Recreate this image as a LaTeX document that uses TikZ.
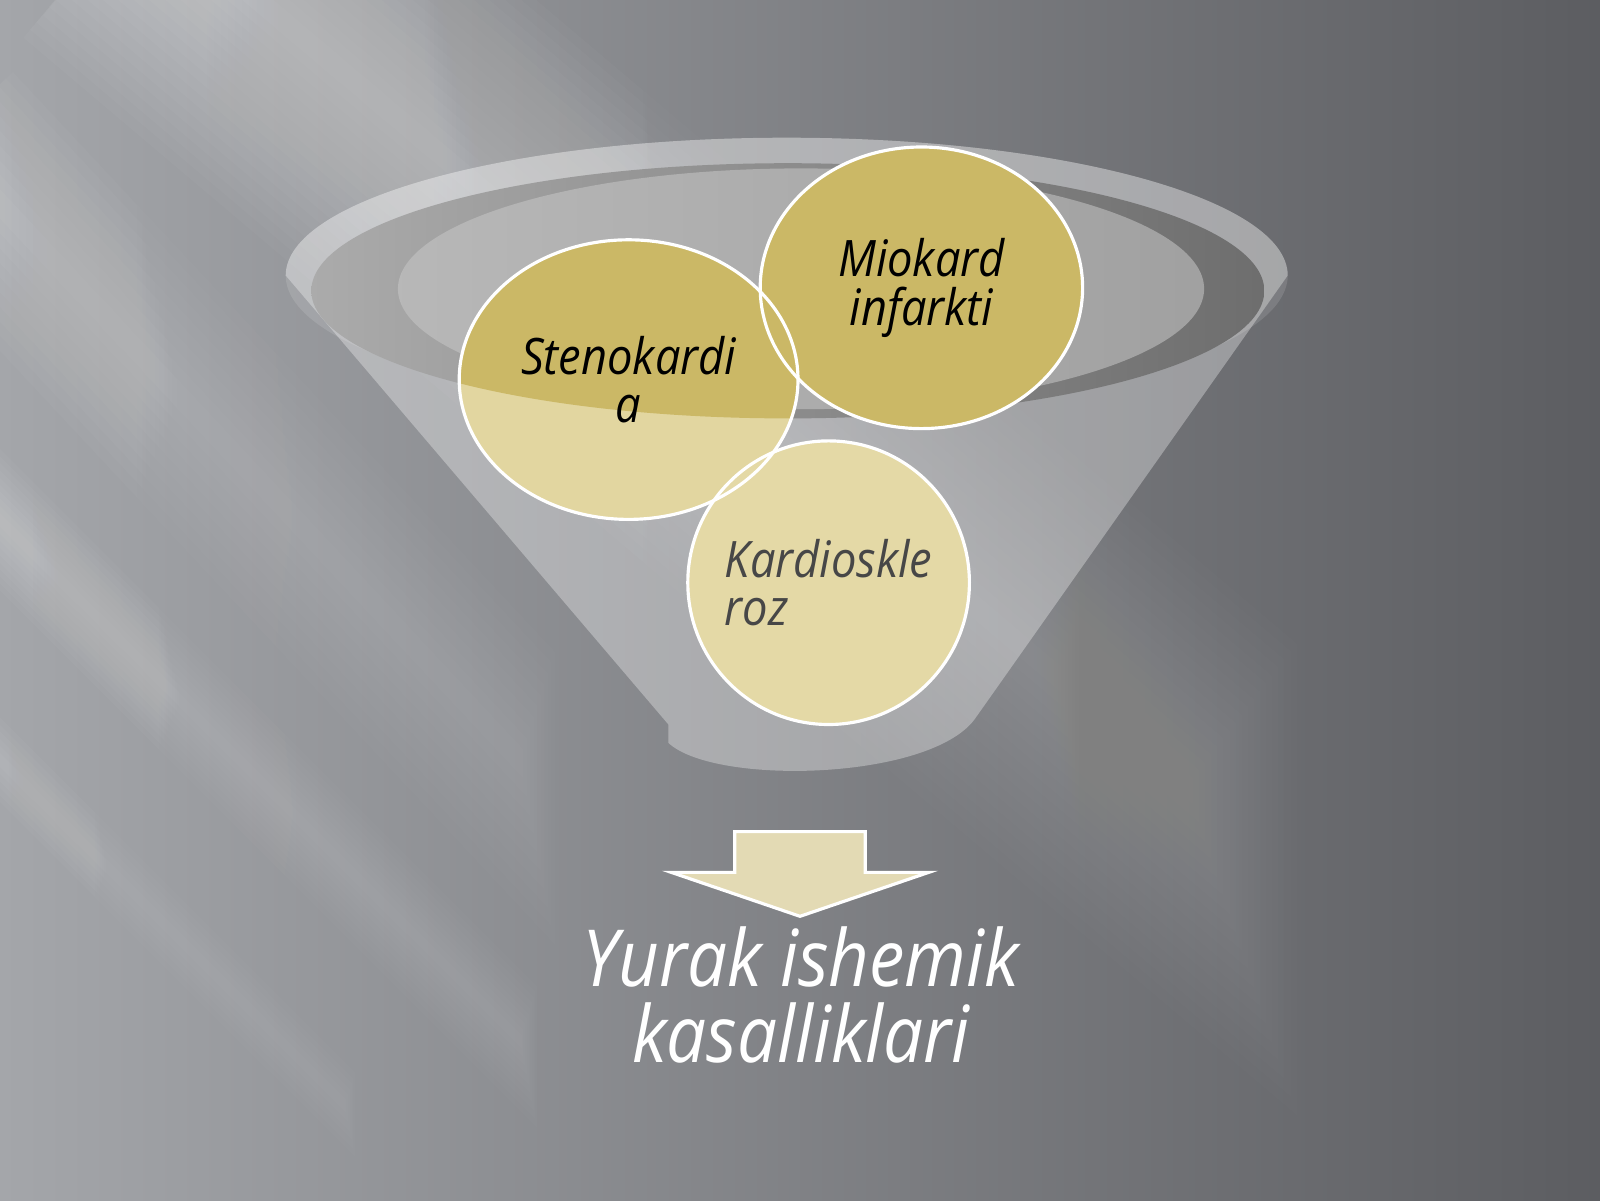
\documentclass[tikz,border=0pt]{standalone}
\usepackage{fontspec}
\setmainfont[FakeStretch=0.9]{Open Sans}
\usepackage{tikz}
\usetikzlibrary{shapes.geometric,positioning,fadings}
\definecolor{bgLight}{HTML}{A4A6AA}
\definecolor{bgDark}{HTML}{5C5D61}
\definecolor{goldDark}{HTML}{CBB866}
\definecolor{goldLight}{HTML}{E2D6A0}
\definecolor{goldPale}{HTML}{E4D9A6}
\definecolor{arrowFill}{HTML}{E3DAB4}
\tikzfading[name=streakfade, left color=transparent!97, right color=transparent!100]
\tikzstyle{bubble} = [ellipse, inner sep=0pt, align=center, font=\itshape\fontsize{14.3}{13.8}\selectfont]
\tikzstyle{rim} = [draw=white, line width=0.9pt]
\tikzstyle{streak} = [white, path fading=streakfade]

\begin{document}
\begin{tikzpicture}
    % background
    \shade[left color=bgLight, right color=bgDark] (0,0) rectangle (16,12);
    \useasboundingbox (0,0) rectangle (16,12);
    \foreach \w in {0.2,0.4,...,3.6}
        \draw[streak, line width=\w cm] (1.4,13.0) -- (14.4,2.0);
    \foreach \w in {0.1,0.2,...,1.0}
        \draw[streak, line width=\w cm] (-0.6,7.4) -- (8.0,-1.2);
    \foreach \w in {0.1,0.2,...,0.6}
        \draw[streak, line width=\w cm] (-0.6,5.0) -- (5.4,-1.0);
    \foreach \w in {0.2,0.4,...,2.0}
        \draw[streak, line width=\w cm] (-0.6,10.6) -- (8.0,1.4);
    % funnel body
    \fill[white, fill opacity=0.32] (2.857,9.245) -- (6.684,4.755) -- (6.684,4.571)
        .. controls (7.143,4.143) and (9.286,4.194) .. (9.745,4.806) -- (12.877,9.245)
        arc[start angle=0, end angle=180, x radius=5.01, y radius=1.378];
    \fill[white, fill opacity=0.12] (7.867,9.245) ellipse[x radius=5.01, y radius=1.378];
    % opening
    \shade[left color=black!33, right color=black!57] (7.878,9.092) ellipse[x radius=4.765, y radius=1.276];
    \shade[left color=black!28, right color=black!37] (8.01,9.112) ellipse[x radius=4.031, y radius=1.204];
    % circles
    \fill[goldLight] (6.286,8.204) ellipse[x radius=1.694, y radius=1.398];
    \fill[goldDark] (9.214,9.122) ellipse[x radius=1.612, y radius=1.408];
    \fill[goldPale] (8.286,6.173) ellipse[x radius=1.408, y radius=1.418];
    \begin{scope}
        \clip (3.113,9.092) arc[start angle=180, end angle=360, x radius=4.765, y radius=1.276]
            -- (12.643,12) -- (3.113,12) -- cycle;
        \fill[goldDark] (6.286,8.204) ellipse[x radius=1.694, y radius=1.398];
    \end{scope}
    \draw[rim] (6.286,8.204) ellipse[x radius=1.694, y radius=1.398];
    \draw[rim] (9.214,9.122) ellipse[x radius=1.612, y radius=1.408];
    \draw[rim] (8.286,6.173) ellipse[x radius=1.408, y radius=1.418];
    \node[bubble] (stenok) at (6.286,8.204) {Stenokardi\\a};
    \node[bubble] (miokard) at (9.214,9.122) {Miokard\\infarkti};
    \node[bubble, align=left, text=black!72] (kardio) at (8.286,6.173) {Kardioskle\\roz};
    % arrow
    \draw[rim, fill=arrowFill, line join=miter]
        (7.347,3.684) -- (8.653,3.684) -- (8.653,3.276) -- (9.286,3.276) -- (8.0,2.837)
        -- (6.714,3.276) -- (7.347,3.276) -- cycle;
    \node[text=white, align=center, font=\itshape\fontsize{22.4}{21.7}\selectfont] (result) at (8.01,2.05) {Yurak ishemik\\kasalliklari};
\end{tikzpicture}
\end{document}
